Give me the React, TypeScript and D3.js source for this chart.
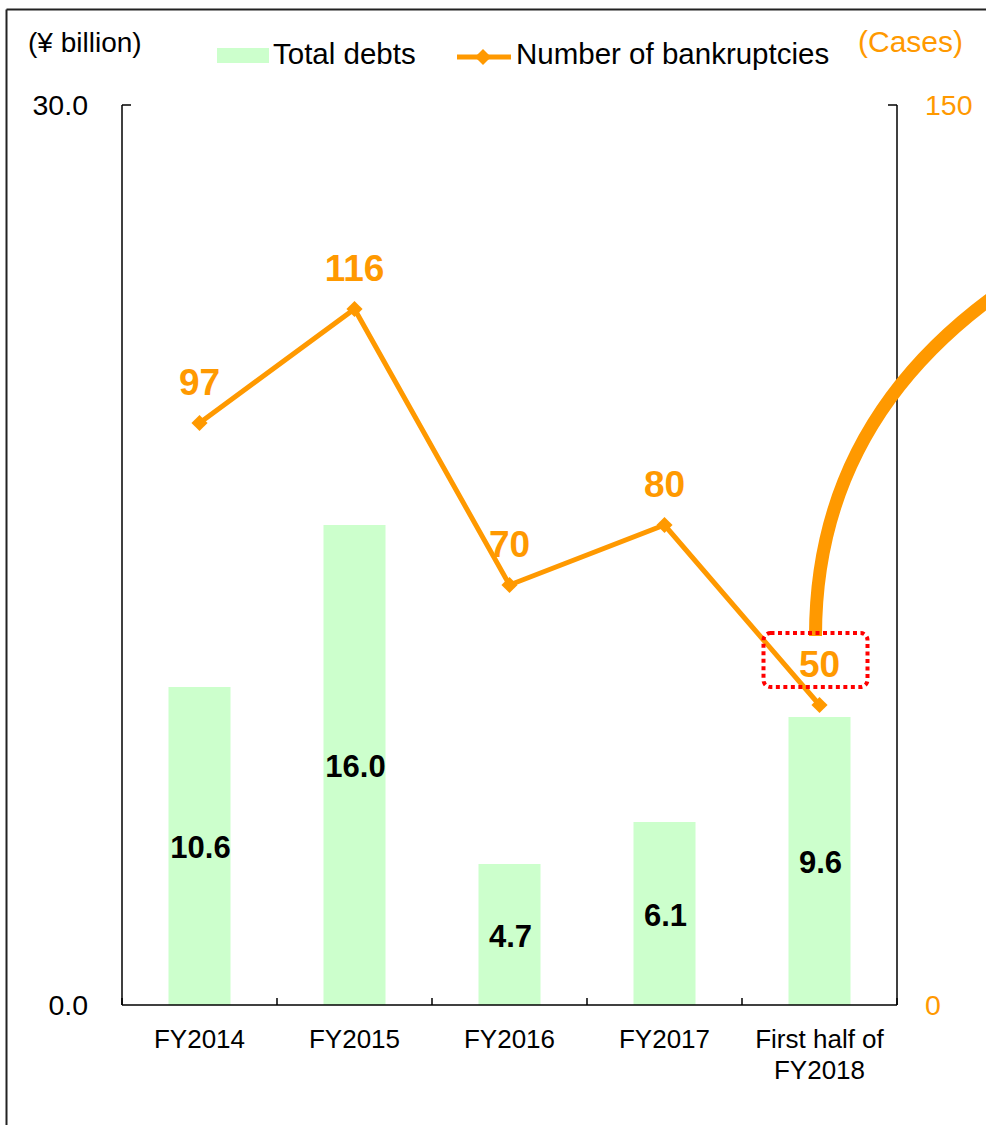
import React from "react";
import * as d3 from "d3";

const categories = ["FY2014", "FY2015", "FY2016", "FY2017", "First half of\nFY2018"];
const totalDebts = [10.6, 16.0, 4.7, 6.1, 9.6];
const bankruptcies = [97, 116, 70, 80, 50];
const leftTicks = [0, 30];
const rightTicks = [0, 150];

const ORANGE = "#FF9900";
const GREEN = "#CCFFCC";
const FONT = "'Liberation Sans', Arial, Helvetica, sans-serif";

export default function App() {
  const W = 986;
  const H = 1125;
  const left = 122;
  const right = 897;
  const top = 105;
  const bottom = 1005;

  const x = d3
    .scaleBand<string>()
    .domain(categories)
    .range([left, right])
    .paddingInner(0.6)
    .paddingOuter(0.3);
  const step = x.step();
  const yL = d3.scaleLinear().domain([0, 30]).range([bottom, top]);
  const yR = d3.scaleLinear().domain([0, 150]).range([bottom, top]);

  const cx = (c: string) => (x(c) as number) + x.bandwidth() / 2;

  const linePath = d3
    .line<number>()
    .x((_, i) => cx(categories[i]))
    .y((d) => yR(d))(bankruptcies) as string;

  const diamond = d3.symbol().type(d3.symbolSquare).size(130)() as string;

  const boundaries = d3.range(categories.length + 1).map((i) => left + i * step);

  const lastX = cx(categories[categories.length - 1]);
  const lastY = yR(bankruptcies[bankruptcies.length - 1]);

  return (
    <svg
      width={W}
      height={H}
      style={{ position: "absolute", left: 0, top: 0, background: "#fff" }}
      fontFamily={FONT}
    >
      {/* frame */}
      <line x1={6.5} y1={9.5} x2={W + 5} y2={9.5} stroke="#222" strokeWidth={2} />
      <line x1={6.5} y1={9.5} x2={6.5} y2={H + 5} stroke="#222" strokeWidth={2} />

      {/* axis titles */}
      <text x={28} y={52} fontSize={28} fill="#000">(¥ billion)</text>
      <text x={858} y={52} fontSize={30} fill={ORANGE}>(Cases)</text>

      {/* legend */}
      <rect x={217} y={48} width={52} height={15} fill={GREEN} />
      <text x={273} y={64} fontSize={29.5} fill="#000">Total debts</text>
      <line x1={457} y1={57} x2={511} y2={57} stroke={ORANGE} strokeWidth={5} />
      <path d={diamond} transform={`translate(483,57) rotate(45)`} fill={ORANGE} />
      <text x={516} y={64} fontSize={29.5} fill="#000">Number of bankruptcies</text>

      {/* bars */}
      {categories.map((c, i) => (
        <rect
          key={c}
          x={x(c)}
          y={yL(totalDebts[i])}
          width={x.bandwidth()}
          height={yL(0) - yL(totalDebts[i])}
          fill={GREEN}
        />
      ))}
      {categories.map((c, i) => (
        <text
          key={"bl" + c}
          x={cx(c) + 1}
          y={(yL(totalDebts[i]) + yL(0)) / 2 + 12}
          fontSize={31}
          fontWeight="bold"
          textAnchor="middle"
          fill="#000"
        >
          {d3.format(".1f")(totalDebts[i])}
        </text>
      ))}

      {/* axes */}
      <line x1={left} y1={top} x2={left} y2={bottom} stroke="#000" strokeWidth={1.5} />
      <line x1={left} y1={top} x2={left + 9} y2={top} stroke="#000" strokeWidth={1.5} />
      <line x1={right} y1={top} x2={right} y2={bottom} stroke="#000" strokeWidth={1.5} />
      <line x1={right} y1={top} x2={right - 9} y2={top} stroke="#000" strokeWidth={1.5} />
      <line x1={left} y1={bottom} x2={right} y2={bottom} stroke="#000" strokeWidth={1.5} />
      {boundaries.map((b, i) => (
        <line key={"t" + i} x1={b} y1={bottom} x2={b} y2={bottom - 7} stroke="#000" strokeWidth={1.5} />
      ))}
      {leftTicks.map((t) => (
        <text key={"lt" + t} x={88} y={yL(t) + 10} fontSize={28.5} textAnchor="end" fill="#000">
          {d3.format(".1f")(t)}
        </text>
      ))}
      {rightTicks.map((t) => (
        <text key={"rt" + t} x={925} y={yR(t) + 10} fontSize={28.5} textAnchor="start" fill={ORANGE}>
          {t}
        </text>
      ))}
      {categories.map((c) => (
        <text key={"xl" + c} x={cx(c)} y={1048} fontSize={26} textAnchor="middle" fill="#000">
          {c.split("\n").map((ln, j) => (
            <tspan key={j} x={cx(c)} dy={j === 0 ? 0 : 31}>
              {ln}
            </tspan>
          ))}
        </text>
      ))}

      {/* line */}
      <path d={linePath} fill="none" stroke={ORANGE} strokeWidth={5} strokeLinejoin="miter" />
      {bankruptcies.map((v, i) => (
        <path
          key={"m" + i}
          d={diamond}
          transform={`translate(${cx(categories[i])},${yR(v)}) rotate(45)`}
          fill={ORANGE}
        />
      ))}
      {bankruptcies.map((v, i) => (
        <text
          key={"ll" + i}
          x={cx(categories[i])}
          y={yR(v) - 28}
          fontSize={37}
          fontWeight="bold"
          textAnchor="middle"
          fill={ORANGE}
        >
          {v}
        </text>
      ))}

      {/* annotation arc */}
      <path
        d={`M ${lastX - 4} ${lastY - 69} C ${lastX - 4} 470, 900 360, 1010 285`}
        fill="none"
        stroke={ORANGE}
        strokeWidth={13}
      />
      {/* dotted highlight box */}
      <rect
        x={lastX - 56}
        y={lastY - 72}
        width={104}
        height={54}
        rx={7}
        fill="none"
        stroke="#FF0000"
        strokeWidth={4}
        strokeDasharray="4 3.5"
      />
    </svg>
  );
}
